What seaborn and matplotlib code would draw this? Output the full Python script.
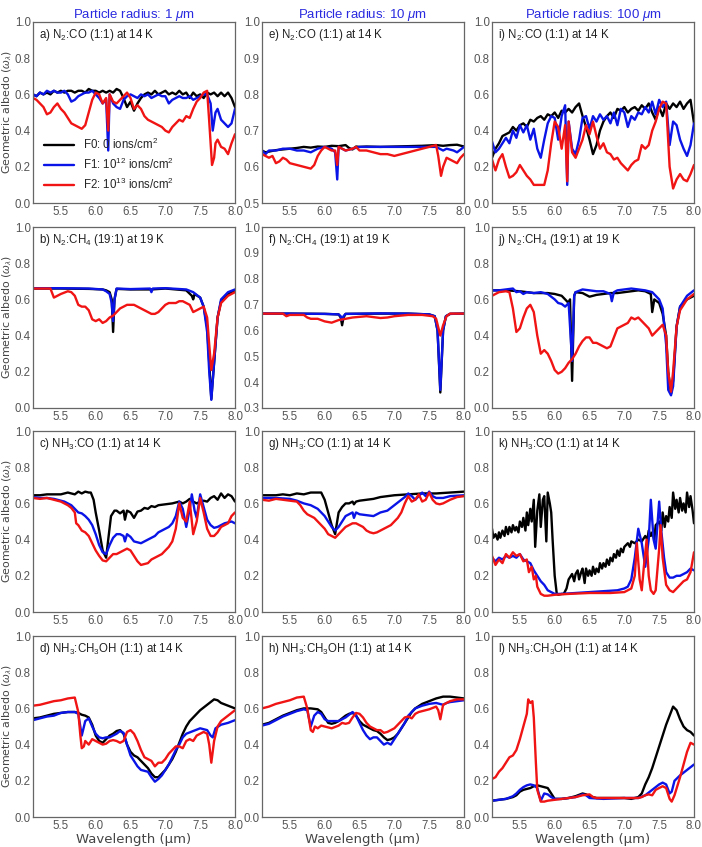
import matplotlib
matplotlib.use("Agg")
import matplotlib.pyplot as plt
import pandas as pd
import seaborn as sns
from matplotlib.ticker import MultipleLocator, AutoMinorLocator

a_f0 = [(5.10, .60), (5.15, .59), (5.20, .61), (5.25, .60), (5.30, .61), (5.35, .60), (5.40, .62), (5.45, .61),
        (5.50, .62), (5.55, .61), (5.60, .62), (5.65, .62), (5.70, .61), (5.75, .62), (5.80, .62), (5.85, .61),
        (5.90, .63), (5.95, .62), (6.00, .62), (6.05, .61), (6.10, .62), (6.15, .61), (6.20, .62), (6.25, .61),
        (6.30, .63), (6.35, .62), (6.40, .58), (6.45, .53), (6.50, .56), (6.55, .51), (6.60, .55), (6.65, .58),
        (6.70, .60), (6.75, .61), (6.80, .60), (6.85, .62), (6.90, .60), (6.95, .61), (7.00, .62), (7.05, .60),
        (7.10, .61), (7.15, .60), (7.20, .62), (7.25, .60), (7.30, .61), (7.35, .58), (7.40, .61), (7.45, .59),
        (7.50, .60), (7.55, .58), (7.60, .61), (7.65, .60), (7.70, .61), (7.75, .59), (7.80, .61), (7.85, .59),
        (7.90, .61), (7.95, .58), (8.00, .53)]
a_f1 = [(5.10, .60), (5.15, .59), (5.20, .61), (5.25, .60), (5.30, .62), (5.35, .61), (5.40, .62), (5.45, .61),
        (5.50, .61), (5.55, .62), (5.60, .60), (5.65, .56), (5.70, .57), (5.75, .59), (5.80, .60), (5.85, .61),
        (5.90, .61), (5.95, .62), (6.00, .60), (6.05, .58), (6.10, .55), (6.15, .57), (6.18, .29), (6.20, .60),
        (6.25, .55), (6.30, .53), (6.35, .52), (6.40, .57), (6.45, .59), (6.50, .60), (6.55, .59), (6.60, .58),
        (6.65, .60), (6.70, .59), (6.75, .60), (6.80, .58), (6.85, .59), (6.90, .60), (6.95, .59), (7.00, .59),
        (7.05, .55), (7.10, .57), (7.15, .58), (7.20, .59), (7.25, .58), (7.30, .58), (7.35, .59), (7.40, .57),
        (7.45, .58), (7.50, .59), (7.55, .60), (7.60, .60), (7.65, .55), (7.68, .40), (7.72, .50), (7.75, .52),
        (7.80, .46), (7.85, .44), (7.90, .42), (7.95, .44), (8.00, .52)]
a_f2 = [(5.10, .58), (5.15, .57), (5.20, .55), (5.25, .53), (5.30, .49), (5.35, .50), (5.40, .53), (5.45, .55),
        (5.50, .52), (5.55, .50), (5.60, .47), (5.65, .44), (5.70, .43), (5.75, .42), (5.80, .41), (5.85, .43),
        (5.90, .50), (5.95, .57), (6.00, .61), (6.05, .60), (6.10, .55), (6.15, .58), (6.18, .40), (6.20, .60),
        (6.25, .56), (6.30, .55), (6.35, .57), (6.40, .59), (6.45, .61), (6.50, .58), (6.55, .52), (6.60, .54),
        (6.65, .52), (6.70, .48), (6.75, .46), (6.80, .45), (6.85, .44), (6.90, .43), (6.95, .42), (7.00, .40),
        (7.05, .39), (7.10, .42), (7.15, .44), (7.20, .46), (7.25, .45), (7.30, .48), (7.35, .47), (7.40, .52),
        (7.45, .56), (7.50, .58), (7.55, .61), (7.60, .62), (7.63, .45), (7.67, .21), (7.70, .25), (7.72, .33),
        (7.75, .35), (7.80, .31), (7.85, .30), (7.90, .27), (7.95, .33), (8.00, .38)]

e_f0 = [(5.10, .645), (5.15, .640), (5.20, .642), (5.30, .646), (5.40, .648), (5.50, .650), (5.60, .652),
        (5.70, .655), (5.80, .653), (5.90, .656), (6.00, .655), (6.10, .658), (6.20, .657), (6.30, .660),
        (6.35, .652), (6.40, .648), (6.45, .656), (6.50, .655), (6.60, .656), (6.80, .655), (7.00, .656),
        (7.20, .657), (7.40, .658), (7.60, .660), (7.70, .658), (7.80, .660), (7.90, .661), (8.00, .656)]
e_f1 = [(5.10, .645), (5.15, .635), (5.20, .645), (5.30, .645), (5.40, .650), (5.50, .650), (5.60, .645),
        (5.70, .645), (5.80, .640), (5.90, .650), (6.00, .655), (6.10, .650), (6.15, .640), (6.18, .565),
        (6.20, .655), (6.30, .645), (6.40, .650), (6.50, .655), (6.70, .655), (7.00, .655), (7.30, .655),
        (7.60, .655), (7.70, .645), (7.75, .650), (7.85, .645), (7.90, .640), (8.00, .655)]
e_f2 = [(5.10, .635), (5.20, .625), (5.25, .630), (5.30, .610), (5.35, .615), (5.40, .625), (5.45, .620),
        (5.50, .610), (5.60, .605), (5.70, .600), (5.80, .595), (5.85, .605), (5.90, .630), (5.95, .645),
        (6.00, .655), (6.10, .645), (6.15, .645), (6.18, .605), (6.20, .655), (6.30, .645), (6.40, .650),
        (6.45, .655), (6.50, .645), (6.60, .645), (6.70, .640), (6.80, .635), (6.90, .635), (7.00, .630),
        (7.10, .635), (7.20, .640), (7.30, .645), (7.40, .650), (7.50, .655), (7.60, .660), (7.63, .630),
        (7.67, .575), (7.70, .600), (7.75, .625), (7.80, .620), (7.85, .615), (7.90, .610), (7.95, .625),
        (8.00, .635)]

i_f0 = [(5.10, .25), (5.15, .30), (5.20, .33), (5.25, .37), (5.30, .38), (5.35, .39), (5.40, .42), (5.45, .40),
        (5.50, .43), (5.55, .44), (5.60, .42), (5.65, .46), (5.70, .45), (5.75, .47), (5.80, .48), (5.85, .46),
        (5.90, .49), (5.95, .48), (6.00, .50), (6.05, .47), (6.10, .51), (6.15, .50), (6.20, .52), (6.25, .50),
        (6.30, .53), (6.35, .55), (6.40, .48), (6.45, .42), (6.50, .35), (6.55, .27), (6.60, .32), (6.65, .40),
        (6.70, .45), (6.75, .48), (6.80, .50), (6.85, .47), (6.90, .52), (6.95, .51), (7.00, .53), (7.05, .50),
        (7.10, .52), (7.15, .53), (7.20, .51), (7.25, .54), (7.30, .52), (7.35, .55), (7.40, .50), (7.45, .46),
        (7.50, .53), (7.55, .48), (7.60, .55), (7.65, .52), (7.70, .55), (7.75, .53), (7.80, .56), (7.85, .52),
        (7.90, .55), (7.95, .57), (8.00, .44)]
i_f1 = [(5.10, .34), (5.15, .28), (5.20, .30), (5.25, .33), (5.30, .36), (5.35, .33), (5.40, .40), (5.45, .36),
        (5.50, .43), (5.55, .39), (5.60, .43), (5.65, .35), (5.70, .41), (5.75, .30), (5.80, .25), (5.85, .35),
        (5.90, .44), (5.95, .48), (6.00, .47), (6.05, .35), (6.10, .48), (6.15, .54), (6.18, .10), (6.20, .45),
        (6.25, .30), (6.30, .27), (6.35, .35), (6.40, .47), (6.45, .48), (6.50, .41), (6.55, .48), (6.60, .45),
        (6.65, .49), (6.70, .46), (6.75, .48), (6.80, .44), (6.85, .50), (6.90, .43), (6.95, .52), (7.00, .50),
        (7.05, .42), (7.10, .48), (7.15, .46), (7.20, .50), (7.25, .49), (7.30, .53), (7.35, .50), (7.40, .56),
        (7.45, .49), (7.50, .57), (7.55, .53), (7.60, .56), (7.65, .32), (7.70, .45), (7.75, .43), (7.80, .35),
        (7.85, .30), (7.90, .26), (7.95, .32), (8.00, .44)]
i_f2 = [(5.10, .24), (5.15, .18), (5.20, .24), (5.25, .27), (5.30, .20), (5.35, .14), (5.40, .15), (5.45, .17),
        (5.50, .21), (5.55, .18), (5.60, .15), (5.65, .13), (5.70, .10), (5.75, .10), (5.80, .10), (5.85, .10),
        (5.90, .18), (5.95, .33), (6.00, .45), (6.05, .42), (6.10, .30), (6.15, .43), (6.18, .12), (6.20, .45),
        (6.25, .28), (6.30, .25), (6.35, .30), (6.40, .35), (6.45, .43), (6.50, .38), (6.55, .45), (6.60, .37),
        (6.65, .30), (6.70, .33), (6.75, .28), (6.80, .27), (6.85, .24), (6.90, .25), (6.95, .22), (7.00, .20),
        (7.05, .18), (7.10, .21), (7.15, .23), (7.20, .24), (7.25, .32), (7.30, .30), (7.35, .32), (7.40, .40),
        (7.45, .45), (7.50, .52), (7.55, .56), (7.60, .55), (7.65, .20), (7.70, .08), (7.75, .13), (7.80, .16),
        (7.85, .13), (7.90, .12), (7.95, .16), (8.00, .21)]

b_f0 = [(5.10, .660), (5.50, .660), (5.90, .658), (6.10, .655), (6.15, .650), (6.20, .640), (6.23, .600),
        (6.25, .420), (6.27, .600), (6.30, .658), (6.50, .655), (6.80, .655), (7.00, .660), (7.30, .650),
        (7.38, .620), (7.40, .600), (7.42, .630), (7.50, .610), (7.55, .560), (7.60, .450), (7.63, .250),
        (7.66, .050), (7.70, .250), (7.75, .500), (7.80, .590), (7.90, .630), (8.00, .650)]
b_f1 = [(5.10, .662), (5.50, .662), (5.90, .660), (6.10, .655), (6.15, .645), (6.20, .630), (6.23, .580),
        (6.25, .480), (6.27, .600), (6.30, .660), (6.50, .657), (6.78, .660), (6.80, .640), (6.82, .660),
        (7.00, .662), (7.30, .655), (7.40, .640), (7.50, .610), (7.55, .560), (7.60, .420), (7.63, .200),
        (7.66, .045), (7.69, .200), (7.75, .500), (7.80, .600), (7.90, .640), (8.00, .655)]
b_f2 = [(5.10, .66), (5.35, .66), (5.40, .61), (5.50, .63), (5.60, .645), (5.65, .64), (5.70, .62), (5.75, .57),
        (5.80, .56), (5.85, .56), (5.90, .54), (5.95, .49), (6.00, .48), (6.05, .49), (6.10, .47), (6.15, .48),
        (6.20, .50), (6.25, .51), (6.30, .53), (6.35, .55), (6.40, .56), (6.45, .57), (6.50, .57), (6.55, .57),
        (6.60, .56), (6.65, .55), (6.70, .54), (6.75, .53), (6.80, .52), (6.85, .52), (6.90, .53), (6.95, .55),
        (7.00, .57), (7.05, .58), (7.10, .58), (7.15, .58), (7.20, .59), (7.25, .59), (7.30, .58), (7.35, .57),
        (7.40, .53), (7.45, .54), (7.50, .55), (7.55, .56), (7.60, .50), (7.63, .35), (7.66, .21), (7.70, .30),
        (7.75, .50), (7.80, .58), (7.90, .62), (8.00, .64)]

f_f0 = [(5.10, .665), (5.50, .665), (6.00, .664), (6.20, .662), (6.23, .650), (6.25, .620), (6.27, .650),
        (6.30, .664), (6.80, .665), (7.20, .665), (7.50, .662), (7.58, .655), (7.62, .600), (7.66, .360),
        (7.70, .600), (7.74, .655), (7.80, .664), (8.00, .665)]
f_f1 = [(5.10, .665), (5.50, .665), (6.00, .664), (6.20, .662), (6.23, .655), (6.25, .640), (6.27, .655),
        (6.30, .664), (6.80, .666), (7.20, .665), (7.50, .662), (7.58, .655), (7.62, .600), (7.66, .370),
        (7.70, .600), (7.74, .655), (7.80, .664), (8.00, .665)]
f_f2 = [(5.10, .665), (5.40, .665), (5.45, .655), (5.50, .660), (5.70, .660), (5.75, .650), (5.80, .645),
        (5.90, .645), (6.00, .635), (6.10, .630), (6.20, .640), (6.30, .645), (6.40, .650), (6.60, .655),
        (6.80, .648), (6.90, .650), (7.00, .655), (7.20, .660), (7.40, .660), (7.55, .655), (7.60, .645),
        (7.66, .580), (7.70, .620), (7.75, .655), (7.80, .665), (8.00, .665)]

j_f0 = [(5.10, .650), (5.30, .650), (5.50, .645), (5.70, .635), (5.90, .635), (6.00, .630), (6.10, .620),
        (6.15, .600), (6.20, .580), (6.22, .600), (6.25, .150), (6.28, .620), (6.30, .640), (6.40, .635),
        (6.50, .615), (6.60, .625), (6.70, .630), (6.80, .635), (6.90, .635), (7.00, .640), (7.10, .645),
        (7.20, .650), (7.30, .645), (7.38, .630), (7.40, .530), (7.43, .600), (7.50, .580), (7.55, .520),
        (7.60, .400), (7.63, .200), (7.67, .080), (7.70, .150), (7.75, .450), (7.80, .560), (7.90, .600),
        (8.00, .620)]
j_f1 = [(5.10, .650), (5.20, .650), (5.30, .655), (5.40, .660), (5.45, .640), (5.50, .645), (5.55, .630),
        (5.60, .640), (5.70, .635), (5.80, .640), (5.90, .630), (6.00, .600), (6.05, .580), (6.10, .575),
        (6.15, .560), (6.20, .580), (6.25, .260), (6.28, .620), (6.30, .640), (6.40, .655), (6.50, .650),
        (6.60, .645), (6.70, .645), (6.80, .630), (6.82, .590), (6.85, .640), (6.90, .650), (7.00, .655),
        (7.10, .660), (7.20, .655), (7.30, .650), (7.40, .640), (7.50, .600), (7.55, .550), (7.60, .350),
        (7.63, .100), (7.67, .070), (7.70, .120), (7.75, .450), (7.80, .560), (7.90, .620), (8.00, .650)]
j_f2 = [(5.10, .62), (5.20, .64), (5.30, .645), (5.35, .64), (5.40, .55), (5.45, .42), (5.50, .44), (5.55, .50),
        (5.60, .55), (5.65, .57), (5.70, .53), (5.75, .40), (5.80, .30), (5.85, .32), (5.90, .30), (5.95, .26),
        (6.00, .21), (6.05, .19), (6.10, .20), (6.15, .22), (6.20, .25), (6.25, .27), (6.30, .30), (6.35, .34),
        (6.40, .37), (6.45, .39), (6.50, .39), (6.55, .36), (6.60, .36), (6.65, .35), (6.70, .34), (6.75, .33),
        (6.80, .34), (6.85, .39), (6.90, .44), (6.95, .45), (7.00, .46), (7.05, .47), (7.10, .50), (7.15, .49),
        (7.20, .50), (7.25, .48), (7.30, .46), (7.35, .44), (7.40, .40), (7.45, .42), (7.50, .44), (7.55, .46),
        (7.60, .40), (7.63, .20), (7.67, .09), (7.70, .20), (7.75, .45), (7.80, .54), (7.90, .60), (8.00, .63)]

c_f0 = [(5.10, .645), (5.20, .645), (5.30, .650), (5.40, .650), (5.50, .650), (5.60, .660), (5.70, .650),
        (5.75, .665), (5.80, .655), (5.85, .665), (5.90, .660), (5.93, .660), (5.97, .620), (6.00, .550),
        (6.05, .450), (6.10, .340), (6.15, .300), (6.18, .400), (6.22, .530), (6.27, .560), (6.30, .560),
        (6.35, .545), (6.40, .560), (6.42, .510), (6.45, .560), (6.50, .550), (6.55, .520), (6.60, .555),
        (6.65, .560), (6.70, .575), (6.75, .570), (6.80, .585), (6.85, .580), (6.90, .590), (7.00, .595),
        (7.10, .600), (7.20, .610), (7.25, .600), (7.30, .610), (7.35, .625), (7.40, .610), (7.45, .600),
        (7.50, .610), (7.55, .615), (7.60, .610), (7.65, .630), (7.70, .640), (7.75, .620), (7.80, .655),
        (7.85, .630), (7.90, .650), (7.95, .640), (8.00, .610)]
c_f1 = [(5.10, .635), (5.20, .630), (5.30, .630), (5.40, .625), (5.50, .615), (5.55, .610), (5.60, .600),
        (5.65, .590), (5.70, .570), (5.75, .550), (5.80, .545), (5.85, .530), (5.90, .510), (5.95, .480),
        (6.00, .430), (6.05, .370), (6.10, .330), (6.15, .320), (6.20, .370), (6.25, .410), (6.30, .430),
        (6.35, .430), (6.40, .420), (6.42, .390), (6.45, .430), (6.50, .415), (6.55, .390), (6.60, .385),
        (6.65, .380), (6.70, .390), (6.75, .400), (6.80, .410), (6.85, .420), (6.90, .440), (6.95, .450),
        (7.00, .460), (7.05, .470), (7.10, .490), (7.15, .530), (7.20, .610), (7.25, .570), (7.30, .470),
        (7.35, .570), (7.38, .650), (7.42, .560), (7.45, .520), (7.50, .650), (7.55, .580), (7.60, .510),
        (7.65, .480), (7.70, .465), (7.75, .470), (7.80, .480), (7.85, .490), (7.90, .495), (7.95, .500),
        (8.00, .490)]
c_f2 = [(5.10, .630), (5.20, .625), (5.30, .630), (5.40, .620), (5.50, .610), (5.55, .600), (5.60, .590),
        (5.65, .575), (5.70, .550), (5.72, .490), (5.75, .480), (5.80, .450), (5.85, .440), (5.90, .420),
        (5.95, .380), (6.00, .340), (6.05, .310), (6.10, .285), (6.15, .280), (6.20, .300), (6.25, .320),
        (6.30, .320), (6.35, .330), (6.40, .340), (6.45, .350), (6.50, .340), (6.55, .310), (6.60, .280),
        (6.65, .260), (6.70, .265), (6.75, .270), (6.80, .290), (6.85, .300), (6.90, .310), (6.95, .320),
        (7.00, .340), (7.05, .360), (7.10, .390), (7.15, .460), (7.20, .600), (7.25, .520), (7.30, .500),
        (7.35, .610), (7.40, .430), (7.45, .500), (7.50, .630), (7.55, .550), (7.60, .460), (7.65, .420),
        (7.70, .420), (7.75, .440), (7.80, .470), (7.85, .480), (7.90, .490), (7.95, .530), (8.00, .550)]

g_f0 = [(5.10, .645), (5.20, .645), (5.30, .645), (5.40, .650), (5.50, .645), (5.60, .655), (5.70, .650),
        (5.80, .660), (5.90, .660), (5.95, .660), (6.00, .620), (6.05, .550), (6.10, .480), (6.15, .430),
        (6.20, .550), (6.25, .580), (6.30, .600), (6.35, .600), (6.40, .610), (6.42, .595), (6.45, .610),
        (6.50, .615), (6.60, .620), (6.70, .625), (6.80, .635), (6.90, .640), (7.00, .645), (7.20, .650),
        (7.40, .655), (7.50, .655), (7.60, .655), (7.80, .660), (8.00, .665)]
g_f1 = [(5.10, .630), (5.30, .630), (5.50, .625), (5.60, .615), (5.70, .600), (5.80, .590), (5.90, .570),
        (6.00, .530), (6.05, .500), (6.10, .470), (6.15, .450), (6.20, .470), (6.25, .500), (6.30, .530),
        (6.35, .540), (6.40, .550), (6.42, .520), (6.45, .550), (6.50, .540), (6.60, .535), (6.70, .530),
        (6.80, .550), (6.90, .560), (7.00, .590), (7.10, .620), (7.15, .635), (7.20, .655), (7.25, .640),
        (7.30, .620), (7.35, .640), (7.40, .660), (7.45, .640), (7.50, .665), (7.55, .640), (7.60, .630),
        (7.70, .630), (7.80, .640), (8.00, .645)]
g_f2 = [(5.10, .620), (5.20, .615), (5.30, .625), (5.40, .620), (5.50, .615), (5.60, .610), (5.65, .590),
        (5.70, .560), (5.75, .540), (5.80, .530), (5.85, .520), (5.90, .500), (5.95, .480), (6.00, .460),
        (6.05, .430), (6.10, .420), (6.15, .410), (6.20, .430), (6.25, .450), (6.30, .470), (6.35, .480),
        (6.40, .490), (6.45, .490), (6.50, .480), (6.55, .470), (6.60, .450), (6.65, .440), (6.70, .435),
        (6.75, .440), (6.80, .450), (6.85, .460), (6.90, .470), (6.95, .480), (7.00, .500), (7.05, .520),
        (7.10, .550), (7.15, .600), (7.20, .640), (7.25, .610), (7.30, .620), (7.35, .650), (7.40, .610),
        (7.45, .620), (7.50, .660), (7.55, .620), (7.60, .600), (7.65, .595), (7.70, .600), (7.80, .620),
        (7.90, .635), (8.00, .640)]

k_f0 = [(5.10, .46), (5.12, .41), (5.15, .43), (5.18, .40), (5.20, .44), (5.22, .41), (5.25, .45), (5.28, .42),
        (5.30, .47), (5.33, .43), (5.35, .47), (5.38, .44), (5.40, .48), (5.43, .45), (5.45, .47), (5.48, .44),
        (5.50, .50), (5.53, .47), (5.55, .52), (5.58, .45), (5.60, .55), (5.62, .48), (5.65, .57), (5.67, .50),
        (5.70, .62), (5.72, .36), (5.75, .56), (5.78, .65), (5.80, .47), (5.83, .62), (5.85, .64), (5.88, .39),
        (5.90, .66), (5.93, .60), (5.95, .55), (5.97, .40), (6.00, .20), (6.03, .10), (6.05, .095), (6.10, .10),
        (6.13, .10), (6.17, .13), (6.20, .18), (6.25, .21), (6.28, .17), (6.30, .21), (6.33, .23), (6.35, .18),
        (6.38, .22), (6.40, .24), (6.43, .16), (6.45, .24), (6.48, .20), (6.50, .23), (6.53, .20), (6.55, .25),
        (6.58, .21), (6.60, .24), (6.63, .22), (6.65, .27), (6.68, .24), (6.70, .27), (6.73, .25), (6.75, .29),
        (6.78, .26), (6.80, .30), (6.83, .28), (6.85, .32), (6.88, .30), (6.90, .34), (6.93, .31), (6.95, .35),
        (6.98, .33), (7.00, .36), (7.05, .38), (7.08, .36), (7.10, .39), (7.15, .38), (7.20, .40), (7.25, .39),
        (7.30, .42), (7.33, .40), (7.35, .45), (7.38, .42), (7.40, .44), (7.43, .40), (7.45, .48), (7.50, .50),
        (7.53, .45), (7.55, .55), (7.58, .47), (7.60, .53), (7.63, .50), (7.65, .58), (7.68, .52), (7.70, .66),
        (7.73, .57), (7.75, .62), (7.78, .55), (7.80, .63), (7.83, .56), (7.85, .60), (7.88, .55), (7.90, .66),
        (7.93, .58), (7.95, .64), (7.98, .56), (8.00, .49)]
k_f1 = [(5.10, .30), (5.15, .28), (5.20, .30), (5.25, .29), (5.30, .31), (5.35, .30), (5.40, .31), (5.45, .30),
        (5.50, .32), (5.55, .29), (5.60, .28), (5.65, .27), (5.70, .23), (5.75, .20), (5.80, .17), (5.85, .15),
        (5.90, .12), (5.95, .11), (6.00, .10), (6.10, .10), (6.30, .105), (6.50, .11), (6.70, .115), (6.90, .12),
        (7.00, .13), (7.05, .14), (7.10, .18), (7.15, .30), (7.20, .46), (7.25, .38), (7.30, .25), (7.35, .40),
        (7.38, .62), (7.42, .40), (7.45, .35), (7.50, .61), (7.53, .45), (7.57, .30), (7.60, .22), (7.65, .19),
        (7.70, .19), (7.75, .20), (7.80, .20), (7.85, .21), (7.90, .22), (7.95, .24), (8.00, .23)]
k_f2 = [(5.10, .31), (5.15, .26), (5.20, .29), (5.25, .27), (5.30, .32), (5.35, .30), (5.40, .33), (5.45, .31),
        (5.50, .32), (5.55, .28), (5.60, .29), (5.63, .22), (5.67, .25), (5.70, .18), (5.73, .20), (5.75, .14),
        (5.80, .10), (5.85, .09), (5.90, .09), (6.00, .095), (6.20, .10), (6.50, .105), (6.80, .105), (7.00, .11),
        (7.10, .13), (7.15, .20), (7.18, .38), (7.22, .18), (7.25, .12), (7.28, .25), (7.32, .40), (7.35, .20),
        (7.38, .12), (7.42, .10), (7.45, .12), (7.50, .35), (7.52, .48), (7.55, .30), (7.60, .15), (7.65, .12),
        (7.70, .11), (7.75, .13), (7.80, .15), (7.85, .17), (7.90, .18), (7.95, .22), (8.00, .33)]

d_f0 = [(5.10, .545), (5.20, .550), (5.30, .560), (5.40, .570), (5.50, .575), (5.60, .580), (5.70, .580),
        (5.75, .575), (5.80, .565), (5.85, .560), (5.90, .550), (5.95, .510), (6.00, .450), (6.05, .420),
        (6.10, .410), (6.15, .430), (6.20, .450), (6.25, .460), (6.30, .475), (6.35, .480), (6.40, .460),
        (6.45, .400), (6.50, .360), (6.55, .340), (6.60, .330), (6.65, .310), (6.70, .290), (6.75, .270),
        (6.80, .240), (6.85, .220), (6.90, .220), (6.95, .240), (7.00, .260), (7.05, .290), (7.10, .320),
        (7.15, .360), (7.20, .410), (7.25, .460), (7.30, .500), (7.35, .530), (7.40, .550), (7.50, .590),
        (7.60, .620), (7.70, .650), (7.75, .645), (7.80, .630), (7.90, .615), (8.00, .600)]
d_f1 = [(5.10, .535), (5.20, .545), (5.30, .555), (5.40, .560), (5.50, .575), (5.60, .580), (5.70, .580),
        (5.75, .570), (5.80, .450), (5.85, .530), (5.90, .545), (5.95, .500), (6.00, .460), (6.05, .440),
        (6.10, .435), (6.15, .440), (6.20, .440), (6.25, .450), (6.30, .460), (6.35, .475), (6.40, .465),
        (6.45, .400), (6.50, .340), (6.55, .310), (6.60, .280), (6.65, .260), (6.70, .255), (6.75, .250),
        (6.80, .220), (6.85, .195), (6.90, .210), (6.95, .230), (7.00, .260), (7.05, .290), (7.10, .330),
        (7.15, .370), (7.20, .400), (7.25, .440), (7.30, .460), (7.40, .475), (7.50, .490), (7.60, .480),
        (7.65, .450), (7.68, .440), (7.72, .490), (7.80, .510), (7.90, .520), (8.00, .535)]
d_f2 = [(5.10, .615), (5.20, .620), (5.30, .630), (5.40, .640), (5.50, .645), (5.60, .655), (5.70, .660),
        (5.75, .580), (5.78, .450), (5.80, .380), (5.83, .390), (5.85, .420), (5.90, .400), (5.95, .430),
        (6.00, .420), (6.05, .410), (6.10, .400), (6.15, .405), (6.20, .420), (6.25, .425), (6.30, .420),
        (6.35, .410), (6.40, .420), (6.45, .470), (6.50, .480), (6.55, .460), (6.60, .420), (6.65, .370),
        (6.70, .330), (6.75, .320), (6.80, .310), (6.85, .280), (6.90, .300), (6.95, .300), (7.00, .320),
        (7.05, .350), (7.10, .370), (7.15, .390), (7.20, .390), (7.25, .380), (7.30, .420), (7.35, .430),
        (7.40, .420), (7.45, .450), (7.50, .460), (7.55, .470), (7.60, .460), (7.63, .400), (7.66, .300),
        (7.70, .420), (7.75, .500), (7.80, .530), (7.90, .560), (8.00, .590)]

h_f0 = [(5.10, .510), (5.20, .520), (5.30, .540), (5.40, .560), (5.50, .575), (5.60, .590), (5.70, .600),
        (5.80, .600), (5.90, .595), (5.95, .580), (6.00, .550), (6.05, .520), (6.10, .515), (6.15, .520),
        (6.20, .530), (6.25, .545), (6.30, .560), (6.35, .570), (6.40, .575), (6.45, .560), (6.50, .530),
        (6.55, .510), (6.60, .500), (6.65, .490), (6.70, .480), (6.75, .475), (6.80, .460), (6.85, .440),
        (6.90, .425), (6.95, .430), (7.00, .440), (7.05, .460), (7.10, .490), (7.15, .520), (7.20, .550),
        (7.25, .580), (7.30, .600), (7.40, .625), (7.50, .640), (7.60, .655), (7.70, .665), (7.80, .665),
        (7.90, .660), (8.00, .655)]
h_f1 = [(5.10, .505), (5.20, .515), (5.30, .535), (5.40, .555), (5.50, .570), (5.60, .585), (5.70, .595),
        (5.75, .590), (5.80, .500), (5.85, .560), (5.90, .580), (5.95, .570), (6.00, .540), (6.05, .530),
        (6.10, .530), (6.20, .530), (6.30, .550), (6.40, .580), (6.45, .560), (6.50, .520), (6.55, .480),
        (6.60, .450), (6.65, .430), (6.70, .440), (6.75, .440), (6.80, .420), (6.85, .400), (6.90, .410),
        (6.95, .400), (7.00, .430), (7.05, .460), (7.10, .490), (7.15, .520), (7.20, .560), (7.30, .600),
        (7.40, .615), (7.50, .625), (7.60, .630), (7.65, .625), (7.70, .620), (7.75, .630), (7.80, .635),
        (7.90, .640), (8.00, .645)]
h_f2 = [(5.10, .600), (5.20, .610), (5.30, .625), (5.40, .635), (5.50, .645), (5.60, .660), (5.70, .665),
        (5.75, .600), (5.80, .480), (5.83, .470), (5.86, .500), (5.90, .490), (5.95, .505), (6.00, .500),
        (6.05, .495), (6.10, .490), (6.20, .505), (6.25, .520), (6.30, .515), (6.35, .520), (6.40, .550),
        (6.45, .575), (6.50, .570), (6.55, .550), (6.60, .520), (6.65, .500), (6.70, .490), (6.75, .480),
        (6.80, .480), (6.85, .465), (6.90, .470), (6.95, .480), (7.00, .490), (7.05, .510), (7.10, .530),
        (7.15, .550), (7.20, .555), (7.25, .545), (7.30, .570), (7.35, .580), (7.40, .585), (7.50, .595),
        (7.60, .610), (7.63, .590), (7.66, .540), (7.70, .620), (7.80, .640), (7.90, .650), (8.00, .650)]

l_f0 = [(5.10, .090), (5.20, .095), (5.30, .100), (5.40, .110), (5.45, .120), (5.50, .140), (5.55, .150),
        (5.60, .155), (5.65, .160), (5.70, .170), (5.75, .175), (5.80, .170), (5.85, .165), (5.90, .160),
        (5.95, .130), (6.00, .100), (6.10, .100), (6.20, .105), (6.30, .115), (6.40, .130), (6.45, .125),
        (6.50, .115), (6.60, .105), (6.80, .105), (7.00, .105), (7.10, .100), (7.20, .110), (7.25, .130),
        (7.30, .180), (7.35, .220), (7.40, .270), (7.45, .330), (7.50, .390), (7.55, .450), (7.60, .510),
        (7.65, .560), (7.70, .610), (7.75, .590), (7.80, .540), (7.85, .500), (7.90, .480), (7.95, .470),
        (8.00, .450)]
l_f1 = [(5.10, .090), (5.20, .095), (5.30, .100), (5.40, .115), (5.45, .130), (5.50, .150), (5.55, .165),
        (5.60, .175), (5.65, .180), (5.70, .175), (5.75, .160), (5.80, .090), (5.85, .130), (5.90, .125),
        (5.95, .110), (6.00, .100), (6.10, .100), (6.20, .105), (6.30, .110), (6.40, .125), (6.45, .120),
        (6.50, .105), (6.70, .100), (7.00, .105), (7.20, .105), (7.30, .120), (7.40, .150), (7.50, .180),
        (7.55, .190), (7.60, .180), (7.65, .130), (7.68, .140), (7.72, .200), (7.80, .230), (7.90, .260),
        (8.00, .290)]
l_f2 = [(5.10, .210), (5.15, .220), (5.20, .250), (5.25, .270), (5.30, .300), (5.35, .330), (5.40, .340),
        (5.45, .370), (5.50, .430), (5.55, .500), (5.60, .570), (5.62, .650), (5.65, .630), (5.68, .640),
        (5.70, .550), (5.73, .300), (5.75, .150), (5.80, .085), (5.85, .085), (5.90, .090), (6.00, .095),
        (6.10, .100), (6.20, .105), (6.30, .110), (6.40, .120), (6.50, .125), (6.55, .110), (6.60, .105),
        (6.80, .105), (7.00, .105), (7.20, .105), (7.25, .110), (7.30, .120), (7.35, .125), (7.40, .120),
        (7.45, .150), (7.50, .160), (7.55, .170), (7.60, .160), (7.65, .100), (7.68, .085), (7.72, .120),
        (7.80, .220), (7.85, .290), (7.90, .360), (7.95, .410), (8.00, .400)]

fluence_labels = ["F0: 0 ions/cm$^2$", "F1: 10$^{12}$ ions/cm$^2$", "F2: 10$^{13}$ ions/cm$^2$"]
col_titles = ["Particle radius: 1 $\\mu$m", "Particle radius: 10 $\\mu$m", "Particle radius: 100 $\\mu$m"]
row_names = ["N$_2$:CO (1:1) at 14 K", "N$_2$:CH$_4$ (19:1) at 19 K",
             "NH$_3$:CO (1:1) at 14 K", "NH$_3$:CH$_3$OH (1:1) at 14 K"]
panel_letters = [["a", "e", "i"], ["b", "f", "j"], ["c", "g", "k"], ["d", "h", "l"]]
panel_curves = {
    "a": (a_f0, a_f1, a_f2), "b": (b_f0, b_f1, b_f2), "c": (c_f0, c_f1, c_f2), "d": (d_f0, d_f1, d_f2),
    "e": (e_f0, e_f1, e_f2), "f": (f_f0, f_f1, f_f2), "g": (g_f0, g_f1, g_f2), "h": (h_f0, h_f1, h_f2),
    "i": (i_f0, i_f1, i_f2), "j": (j_f0, j_f1, j_f2), "k": (k_f0, k_f1, k_f2), "l": (l_f0, l_f1, l_f2),
}
y_limits = {"e": (0.5, 1.0), "f": (0.3, 1.0)}

sns.set_style("white")
plt.rcParams["font.family"] = ["Liberation Sans", "DejaVu Sans"]
plt.rcParams["mathtext.fontset"] = "custom"
plt.rcParams["mathtext.rm"] = "Liberation Sans"
plt.rcParams["mathtext.it"] = "Liberation Sans:italic"
plt.rcParams["mathtext.bf"] = "Liberation Sans:bold"

palette = dict(zip(fluence_labels, ["#000000", "#0a14e6", "#f01414"]))
fig = plt.figure(figsize=(7.02, 8.47), dpi=100)
W, H = 702, 847
lefts = [33, 262, 492]
tops = [22, 227, 431, 636]
ax_w, ax_h = 202, 181
grey = "#555555"

for r in range(4):
    for c in range(3):
        letter = panel_letters[r][c]
        ax = fig.add_axes([lefts[c] / W, 1 - (tops[r] + ax_h) / H, ax_w / W, ax_h / H])
        rows = []
        for lab, curve in zip(fluence_labels, panel_curves[letter]):
            for wl, alb in curve:
                rows.append({"wl": wl, "albedo": alb, "fluence": lab})
        df = pd.DataFrame(rows)
        sns.lineplot(data=df, x="wl", y="albedo", hue="fluence", hue_order=fluence_labels,
                     palette=palette, estimator=None, sort=False, lw=1.7, ax=ax,
                     legend=(letter == "a"))
        ylo, yhi = y_limits.get(letter, (0.0, 1.0))
        ax.set_xlim(5.1, 8.0)
        ax.set_ylim(ylo, yhi)
        ax.xaxis.set_major_locator(MultipleLocator(0.5))
        ax.xaxis.set_minor_locator(AutoMinorLocator(5))
        ax.yaxis.set_major_locator(MultipleLocator(0.1 if letter in y_limits else 0.2))
        ax.yaxis.set_minor_locator(AutoMinorLocator(5 if letter in y_limits else 4))
        ax.tick_params(which="both", direction="in", colors=grey, labelsize=8.3)
        ax.tick_params(axis="x", pad=2)
        ax.tick_params(axis="y", pad=1.5)
        ax.tick_params(which="major", length=3.5, width=0.8)
        ax.tick_params(which="minor", length=2, width=0.6)
        ax.xaxis.set_major_formatter(matplotlib.ticker.FormatStrFormatter("%.1f"))
        ax.yaxis.set_major_formatter(matplotlib.ticker.FormatStrFormatter("%.1f"))
        for sp in ax.spines.values():
            sp.set_color("#666666")
            sp.set_linewidth(0.9)
        ax.set_xlabel("Wavelength (\u03bcm)" if r == 3 else "", fontsize=9.5, color="#444444",
                      family="DejaVu Sans", labelpad=1)
        if c == 0:
            ax.set_ylabel("Geometric albedo ($\\omega_\\lambda$)", fontsize=7.9,
                          color="#444444", family="DejaVu Sans")
            ax.yaxis.set_label_coords(-0.092, 0.5)
        else:
            ax.set_ylabel("")
        ax.text(0.03, 0.93, f"{letter}) {row_names[r]}", transform=ax.transAxes,
                fontsize=8.3, color="#222222", va="center", ha="left")
        if r == 0:
            ax.set_title(col_titles[c], color="#2a2ae0", fontsize=9.5, pad=3)
        if letter == "a":
            handles, labels = ax.get_legend_handles_labels()
            ax.legend(handles, labels, loc="lower left", bbox_to_anchor=(0.02, 0.02),
                      frameon=False, fontsize=8.3, handlelength=2.6, labelspacing=0.45,
                      borderaxespad=0.2)

fig.savefig("out.png", dpi=100)
